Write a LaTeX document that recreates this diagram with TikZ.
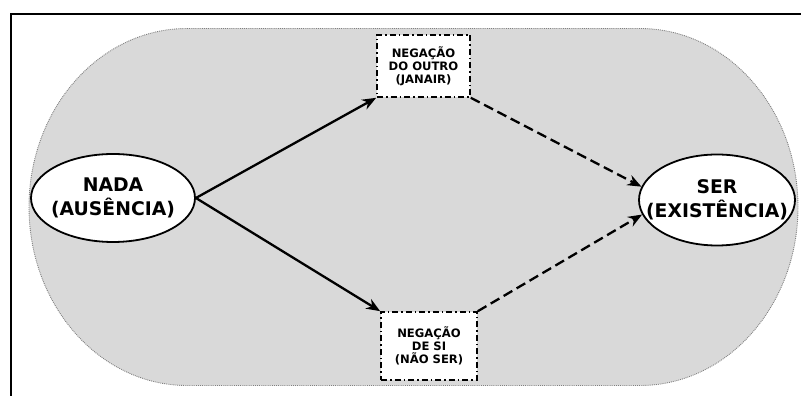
\documentclass[tikz,border=0pt]{standalone}
\usepackage{fontspec}
\setmainfont{DejaVu Sans}
\usepackage{tikz}
\usetikzlibrary{shapes.geometric,arrows.meta}
\tikzset{
	elipse/.style={ellipse,draw,fill=white,line width=1.8pt,inner xsep=-30pt,inner ysep=0pt,align=center,font=\bfseries\fontsize{18.8}{24}\selectfont},
	caixa/.style 2 args={rectangle,draw,fill=white,line width=1.6pt,dash pattern=on 6pt off 3pt on 1.5pt off 3pt,minimum width=#1,minimum height=#2,align=center,font=\bfseries\fontsize{11.6}{13}\selectfont},
	seta/.style={line width=2.3pt,-{Stealth[length=14pt,width=11pt]}}
}

\begin{document}
\begin{tikzpicture}[x=1pt,y=1pt]
					\useasboundingbox (0,0) rectangle (801,396);
					\draw[line width=2.6pt] (801,382) -- (11,382) -- (11,0);
					\filldraw[fill=black!15,draw=gray,densely dotted,line width=0.9pt] (187,367.5) -- (640,367.5) arc[start angle=90,end angle=-90,x radius=158,y radius=178.5] -- (187,10.5) arc[start angle=270,end angle=90,x radius=158,y radius=178.5] -- cycle;

					\node [elipse,minimum width=164pt,minimum height=88pt] (nada) at (113,198) {NADA\\(AUSÊNCIA)};
					\node [elipse,minimum width=156pt,minimum height=91pt] (ser) at (717,196) {SER\\(EXISTÊNCIA)};
					\node [caixa={93pt}{62pt}] (outro) at (423.5,330) {NEGAÇÃO\\DO OUTRO\\(JANAIR)};
					\node [caixa={96pt}{68pt}] (si) at (429,50) {NEGAÇÃO\\DE SI\\(NÃO SER)};

					\draw [seta] (nada.east) -- (outro.south west);
					\draw [seta] (nada.east) -- (si.north west);
					\draw [seta,dashed,dash pattern=on 10pt off 5pt] (outro.south east) -- (ser.170);
					\draw [seta,dashed,dash pattern=on 10pt off 5pt] (si.north east) -- (ser.191);
				\end{tikzpicture}
\end{document}
